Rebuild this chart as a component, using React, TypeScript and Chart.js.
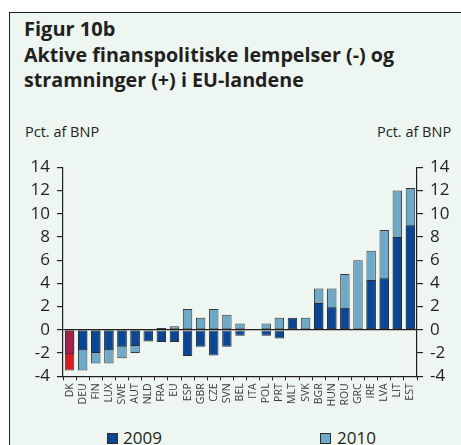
import React, { useEffect, useRef } from "react";
import { Chart, registerables } from "chart.js";

Chart.register(...registerables);

const categories = [
  "DK", "DEU", "FIN", "LUX", "SWE", "AUT", "NLD", "FRA", "EU", "ESP", "GBR", "CZE", "SVN", "BEL",
  "ITA", "POL", "PRT", "MLT", "SVK", "BGR", "HUN", "ROU", "GRC", "IRE", "LVA", "LIT", "EST",
];
const values2009: (number | null)[] = [
  -2.1, -1.75, -2.0, -1.75, -1.45, -1.4, -1.0, -1.05, -1.05, -2.25, -1.45, -2.2, -1.45, -0.5,
  null, -0.5, -0.75, 1.05, null, 2.3, 1.95, 1.9, null, 4.3, 4.45, 8.0, 9.0,
];
const values2010: (number | null)[] = [
  -3.5, -3.5, -2.9, -2.9, -2.45, -2.0, null, 0.15, 0.3, 1.8, 1.05, 1.8, 1.3, 0.55,
  null, 0.55, 1.05, null, 1.05, 3.55, 3.55, 4.8, 6.0, 6.8, 8.6, 12.0, 12.2,
];
const yTickValues = [-4, -2, 0, 2, 4, 6, 8, 10, 12, 14];
const seriesLabels = ["2009", "2010"];

const DARK = "#0b4596";
const LIGHT = "#6fa9c8";
const DK_DARK = "#a8204e";
const DK_LIGHT = "#dc1a22";
const INK = "#231f20";
const BG = "#eef6f1";
const FONT = "'Open Sans', sans-serif";

const CANVAS_TOP = 150;
const CANVAS_W = 461;
const CANVAS_H = 260;

function BarChart() {
  const ref = useRef<HTMLCanvasElement | null>(null);
  useEffect(() => {
    if (!ref.current) return;
    const yCommon = (position: "left" | "right", width: number) => ({
      type: "linear" as const,
      position,
      min: -4,
      max: 14,
      stacked: false,
      afterFit: (s: any) => {
        s.width = width;
      },
      afterBuildTicks: (s: any) => {
        s.ticks = yTickValues.map((v) => ({ value: v }));
      },
      border: { display: true, color: INK, width: 1.2 },
      grid: {
        drawOnChartArea: position === "left",
        color: (ctx: any) => (ctx.tick && ctx.tick.value === 0 ? INK : "rgba(0,0,0,0)"),
        tickColor: INK,
        tickLength: 6,
        lineWidth: 1.2,
      },
      ticks: {
        color: INK,
        padding: 7,
        autoSkip: false,
        stepSize: 2,
        font: { family: FONT, size: 17 },
        callback: (v: any) => String(v),
      },
    });
    const chart = new Chart(ref.current, {
      type: "bar",
      data: {
        labels: categories,
        datasets: [
          {
            label: seriesLabels[0],
            data: values2009,
            backgroundColor: categories.map((c) => (c === "DK" ? DK_DARK : DARK)),
            borderColor: "#2b2b2b",
            borderWidth: 1,
            borderSkipped: false,
            barPercentage: 0.72,
            categoryPercentage: 1,
          },
          {
            label: seriesLabels[1],
            data: values2010,
            backgroundColor: categories.map((c) => (c === "DK" ? DK_LIGHT : LIGHT)),
            borderColor: "#3a3a3a",
            borderWidth: 1,
            borderSkipped: false,
            barPercentage: 0.72,
            categoryPercentage: 1,
          },
        ],
      },
      options: {
        animation: false,
        responsive: false,
        maintainAspectRatio: false,
        layout: { padding: { top: 16.6, left: 0, right: 0, bottom: 0 } },
        plugins: { legend: { display: false }, tooltip: { enabled: false } },
        scales: {
          x: {
            stacked: true,
            afterFit: (s: any) => {
              s.height = CANVAS_H - (376.3 - CANVAS_TOP);
            },
            border: { display: true, color: INK, width: 1.2 },
            grid: {
              offset: true,
              drawOnChartArea: false,
              tickColor: INK,
              tickLength: 4,
              lineWidth: 1,
            },
            ticks: {
              color: "#3a3a3a",
              minRotation: 90,
              maxRotation: 90,
              autoSkip: false,
              padding: 3,
              font: { family: FONT, size: 10.5 },
            },
          },
          y: yCommon("left", 63),
          y2: yCommon("right", CANVAS_W - 417),
        },
      },
    });
    return () => chart.destroy();
  }, []);
  return (
    <canvas
      ref={ref}
      width={CANVAS_W}
      height={CANVAS_H}
      style={{ position: "absolute", left: 0, top: CANVAS_TOP, width: CANVAS_W, height: CANVAS_H }}
    />
  );
}

export default function App() {
  const text = (content: string, left: number, top: number, size: number, bold = false, extra: any = {}) => (
    <div
      style={{
        position: "absolute",
        left,
        top,
        fontFamily: FONT,
        fontSize: size,
        fontWeight: bold ? 700 : 400,
        lineHeight: `${size * 1.362}px`,
        color: INK,
        whiteSpace: "nowrap",
        ...extra,
      }}
    >
      {content}
    </div>
  );
  return (
    <div
      style={{
        position: "absolute",
        left: 0,
        top: 0,
        width: 461,
        height: 445,
        overflow: "hidden",
        background: "#ffffff",
      }}
    >
      <div
        style={{
          position: "absolute",
          left: 9,
          top: 11.5,
          width: 470,
          height: 460,
          background: BG,
          borderLeft: `1.5px solid ${INK}`,
          borderTop: `1.5px solid ${INK}`,
        }}
      />
      {text("Figur 10b", 24, 14.6, 20, true)}
      {text("Aktive finanspolitiske lempelser (-) og", 24, 41.6, 19.7, true)}
      {text("stramninger (+) i EU-landene", 24, 66.6, 19.7, true)}
      {text("Pct. af BNP", 25, 121.5, 14.5)}
      {text("Pct. af BNP", 377, 121.5, 14.5)}
      <BarChart />
      <div
        style={{
          position: "absolute",
          left: 107,
          top: 432.5,
          width: 9,
          height: 9,
          background: DARK,
          border: "1px solid #2b2b2b",
        }}
      />
      {text(seriesLabels[0], 123, 425.8, 17)}
      <div
        style={{
          position: "absolute",
          left: 320,
          top: 432.5,
          width: 9,
          height: 9,
          background: LIGHT,
          border: "1px solid #2b2b2b",
        }}
      />
      {text(seriesLabels[1], 337, 425.8, 17)}
    </div>
  );
}
